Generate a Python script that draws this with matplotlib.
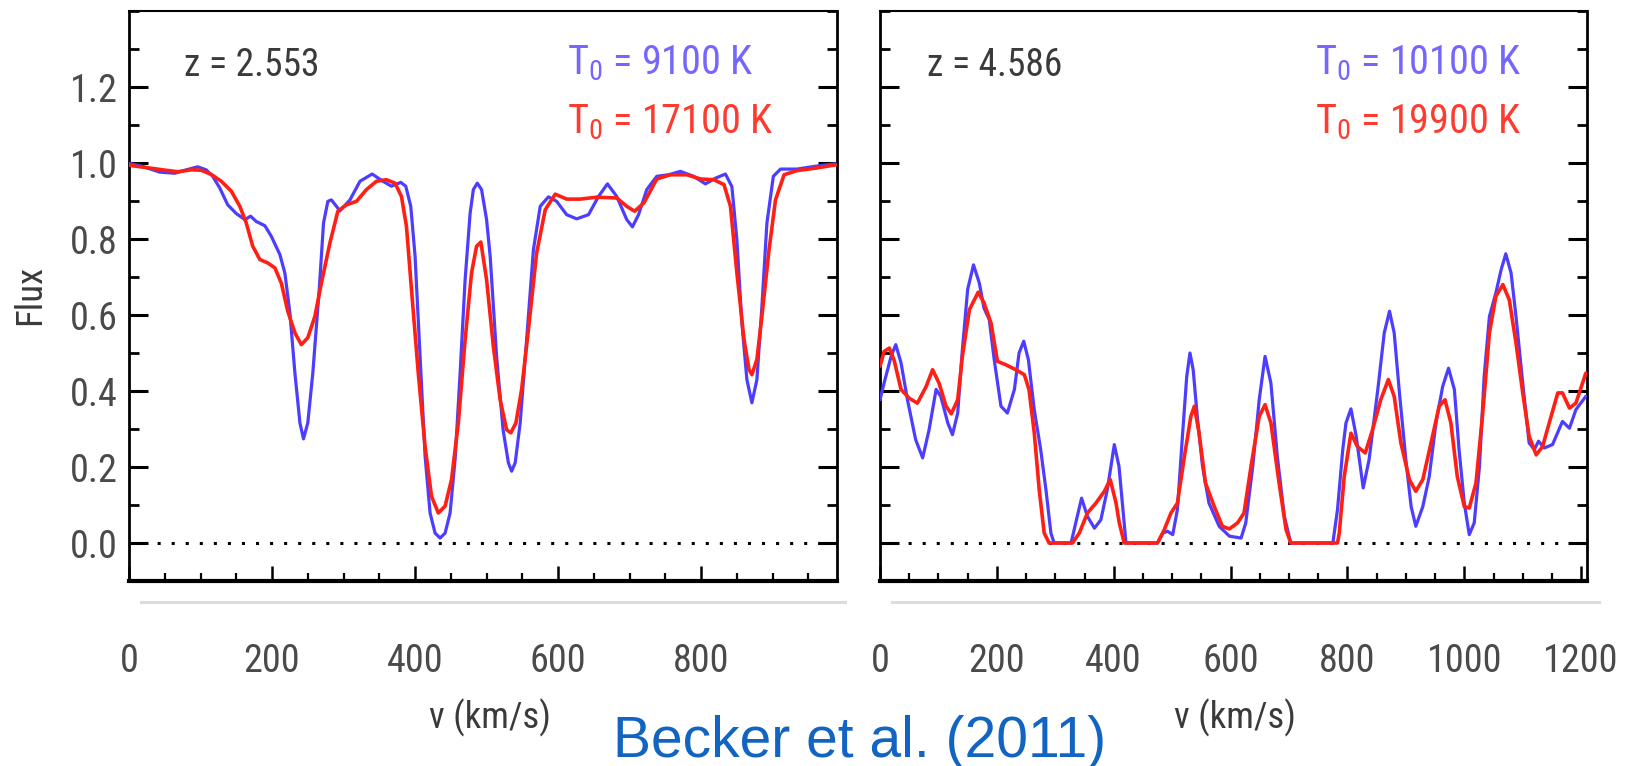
import matplotlib
matplotlib.use("Agg")
import matplotlib.pyplot as plt
from matplotlib import font_manager as fm
from matplotlib.lines import Line2D
from matplotlib.ticker import MultipleLocator

# ---------------- data ----------------
# Left panel (z = 2.553)
v_left_blue = [0, 19, 43, 64, 80, 96, 108, 117, 127, 138, 150, 162, 170, 178, 190, 199, 211, 218,
               225, 232, 239, 244, 250, 257, 266, 272, 278, 283, 295, 309, 323, 340, 355, 367, 380,
               387, 394, 400, 407, 414, 421, 428, 435, 442, 449, 456, 463, 470, 477, 481.5, 487,
               493, 500, 505, 514, 523, 530.5, 535, 540, 547, 556, 565.5, 575, 586.5, 598, 612,
               626, 642.5, 656.5, 669, 682, 696, 704, 712.5, 724, 738, 754.5, 771, 789.5, 806, 820,
               834, 843, 850, 857, 864, 871, 878, 885, 892, 901, 911, 934, 958, 988]
f_left_blue = [0.999, 0.991, 0.976, 0.973, 0.982, 0.990, 0.982, 0.965, 0.934, 0.890, 0.867, 0.851,
               0.860, 0.846, 0.835, 0.807, 0.759, 0.710, 0.605, 0.447, 0.316, 0.274, 0.316, 0.447,
               0.667, 0.842, 0.899, 0.903, 0.874, 0.903, 0.952, 0.971, 0.952, 0.939, 0.949, 0.939,
               0.886, 0.755, 0.492, 0.229, 0.079, 0.026, 0.013, 0.026, 0.079, 0.22, 0.447, 0.693,
               0.868, 0.93, 0.947, 0.93, 0.851, 0.755, 0.492, 0.299, 0.211, 0.189, 0.211, 0.316,
               0.535, 0.772, 0.886, 0.911, 0.899, 0.864, 0.853, 0.864, 0.912, 0.945, 0.912, 0.851,
               0.832, 0.864, 0.930, 0.965, 0.969, 0.978, 0.965, 0.945, 0.960, 0.971, 0.938, 0.798,
               0.579, 0.43, 0.369, 0.43, 0.623, 0.842, 0.965, 0.984, 0.984, 0.991, 0.998]

v_left_red = [0, 24, 47, 68, 87, 101, 115, 129, 143, 155, 164, 173, 183, 194, 204, 213, 222, 232,
              241, 250, 260, 269, 281, 292, 304, 318, 332, 346, 360, 372, 381, 388, 395, 404.5,
              414, 423, 432.5, 442, 451, 460.5, 470, 479, 486, 492, 500, 509.5, 519, 528, 534, 541,
              549, 558.5, 570, 582, 596, 612, 631, 654, 682, 696, 707, 720, 738, 757, 780, 799,
              818, 832, 841, 850, 860, 867, 871, 878, 885, 895, 904, 916, 934, 958, 988]
f_left_red = [0.994, 0.988, 0.982, 0.977, 0.982, 0.981, 0.970, 0.952, 0.926, 0.886, 0.842, 0.781,
              0.746, 0.737, 0.724, 0.684, 0.610, 0.553, 0.522, 0.540, 0.597, 0.684, 0.79, 0.873,
              0.890, 0.899, 0.930, 0.952, 0.956, 0.947, 0.912, 0.833, 0.667, 0.447, 0.254, 0.123,
              0.079, 0.097, 0.167, 0.316, 0.535, 0.711, 0.781, 0.792, 0.693, 0.517, 0.377, 0.298,
              0.290, 0.316, 0.404, 0.561, 0.763, 0.877, 0.918, 0.905, 0.905, 0.910, 0.908, 0.886,
              0.873, 0.895, 0.958, 0.969, 0.969, 0.958, 0.956, 0.943, 0.886, 0.711, 0.535, 0.456,
              0.443, 0.483, 0.597, 0.772, 0.903, 0.969, 0.980, 0.986, 0.995]

# Right panel (z = 4.586)
v_right_blue = [0, 7, 19, 27, 36, 47, 61, 73, 84, 96, 104, 116, 124, 133, 141, 150, 160, 170, 178,
                187, 195.5, 207, 218, 230, 238, 246, 254, 264, 275, 284, 292.5, 298, 327, 335, 345,
                355, 367, 378, 389, 401, 409, 421, 475, 484, 492, 501, 509, 518, 525, 530.5, 536,
                543, 552, 563, 580.5, 598, 618, 626, 638, 649, 659, 669, 680, 692, 703, 775, 783,
                792, 797.5, 806, 815, 827, 837, 852, 863, 872, 880, 889, 900, 909, 917, 929, 940,
                951.5, 963, 973, 983, 991, 1000, 1008.5, 1017, 1026, 1034, 1043, 1054, 1063, 1071,
                1080, 1088.5, 1100, 1111, 1120, 1127, 1137, 1151, 1168, 1180, 1191, 1208]
f_right_blue = [0.377, 0.421, 0.491, 0.522, 0.474, 0.377, 0.272, 0.224, 0.298, 0.404, 0.386, 0.316,
                0.285, 0.342, 0.509, 0.667, 0.732, 0.684, 0.618, 0.588, 0.482, 0.360, 0.342, 0.404,
                0.500, 0.531, 0.482, 0.351, 0.246, 0.140, 0.026, 0.0, 0.0, 0.053, 0.118, 0.070,
                0.039, 0.061, 0.140, 0.259, 0.202, 0.0, 0.0, 0.026, 0.031, 0.022, 0.088, 0.290,
                0.439, 0.500, 0.456, 0.333, 0.202, 0.105, 0.044, 0.018, 0.013, 0.053, 0.202, 0.377,
                0.491, 0.421, 0.228, 0.070, 0.0, 0.0, 0.088, 0.246, 0.316, 0.353, 0.281, 0.145,
                0.219, 0.404, 0.553, 0.610, 0.553, 0.395, 0.219, 0.096, 0.044, 0.096, 0.175, 0.316,
                0.412, 0.460, 0.404, 0.246, 0.105, 0.022, 0.053, 0.202, 0.439, 0.596, 0.658, 0.719,
                0.761, 0.711, 0.596, 0.421, 0.263, 0.246, 0.268, 0.250, 0.259, 0.320, 0.302, 0.351,
                0.386]

v_right_red = [0, 7, 16, 24, 36, 50, 64, 79, 90, 101, 113, 122, 133, 141, 153, 168, 178, 190, 201,
               215.5, 232.5, 247, 255, 264, 272.5, 281, 289.5, 329.5, 341, 355, 369.5, 384, 394,
               404, 409.5, 418, 475, 486.5, 498, 509, 521, 532, 538, 546, 557, 572, 586, 598, 612,
               623, 635, 649, 659, 669, 683, 695, 703, 783, 786, 794.5, 806, 817, 830.5, 843, 857,
               870, 880, 891.5, 906, 917, 929, 943, 957, 967, 977, 988, 1000, 1008.5, 1020, 1031,
               1043, 1054, 1066, 1077, 1088.5, 1100, 1111, 1123, 1134, 1148.5, 1160, 1168, 1180,
               1191, 1208]
f_right_red = [0.465, 0.504, 0.513, 0.482, 0.404, 0.381, 0.368, 0.412, 0.456, 0.421, 0.360, 0.340,
               0.377, 0.491, 0.614, 0.660, 0.632, 0.579, 0.478, 0.469, 0.456, 0.443, 0.404, 0.290,
               0.140, 0.026, 0.0, 0.0, 0.026, 0.079, 0.105, 0.136, 0.167, 0.105, 0.053, 0.0, 0.0,
               0.035, 0.079, 0.105, 0.228, 0.333, 0.360, 0.290, 0.158, 0.096, 0.044, 0.037, 0.053,
               0.079, 0.202, 0.333, 0.364, 0.316, 0.158, 0.035, 0.0, 0.0, 0.026, 0.175, 0.289,
               0.254, 0.237, 0.298, 0.377, 0.430, 0.386, 0.263, 0.167, 0.136, 0.167, 0.263, 0.360,
               0.377, 0.316, 0.175, 0.096, 0.092, 0.158, 0.333, 0.553, 0.649, 0.680, 0.640, 0.526,
               0.395, 0.281, 0.232, 0.254, 0.333, 0.395, 0.395, 0.355, 0.368, 0.447]

z_labels = ["z = 2.553", "z = 4.586"]
t_blue_labels = [r"T$_0$ = 9100 K", r"T$_0$ = 10100 K"]
t_red_labels = [r"T$_0$ = 17100 K", r"T$_0$ = 19900 K"]
xlims = [990, 1210]
xticks_left = [0, 200, 400, 600, 800]
xticks_right = [0, 200, 400, 600, 800, 1000, 1200]
yticks = [0.0, 0.2, 0.4, 0.6, 0.8, 1.0, 1.2]

# ---------------- fonts: prefer a condensed sans if one is installed ----------------
fam, stretch, scale = "Liberation Sans", "normal", 0.80
names = {f.name for f in fm.fontManager.ttflist}
found = False
for cand in ["Liberation Sans Narrow", "Roboto Condensed", "Open Sans Condensed",
             "Noto Sans Condensed", "DejaVu Sans Condensed", "Arial Narrow"]:
    if cand in names:
        fam, stretch, scale, found = cand, "normal", 1.0, True
        break
if not found:
    for base in ["Roboto", "Noto Sans", "Open Sans", "DejaVu Sans", "Inter"]:
        for f in fm.fontManager.ttflist:
            st = f.stretch
            if f.name == base and f.style == "normal" and st in (
                    "condensed", "semi-condensed", "extra-condensed", 75, 87.5, 62.5, 300):
                fam, stretch, scale, found = base, st, 1.0, True
                break
        if found:
            break

plt.rcParams["font.family"] = [fam, "Liberation Sans", "DejaVu Sans"]
plt.rcParams["font.stretch"] = stretch
plt.rcParams["mathtext.fontset"] = "custom"
spec = fam if stretch == "normal" else f"{fam}:stretch={stretch}"
plt.rcParams["mathtext.rm"] = spec
plt.rcParams["mathtext.it"] = spec
plt.rcParams["mathtext.sf"] = spec

TICK_FS = 27.5 * scale
Z_FS = 27 * scale
T_FS = 29 * scale
LAB_FS = 26.5 * scale

BLUE = "#4c3dff"
RED = "#ff1f14"
BLUE_TXT = "#7566ff"
RED_TXT = "#ff3b30"
GRAY_TXT = "#3a3a3a"

W, H = 1634, 766
fig = plt.figure(figsize=(W / 100, H / 100), dpi=100)

def fx(px):
    return px / W

def fy(py):
    return 1 - py / H

ax_top, ax_bot = 11, 581
axL = fig.add_axes([fx(129), fy(ax_bot), fx(837) - fx(129), fy(ax_top) - fy(ax_bot)])
axR = fig.add_axes([fx(880), fy(ax_bot), fx(1587) - fx(880), fy(ax_top) - fy(ax_bot)])

panels = [
    (axL, v_left_blue, f_left_blue, v_left_red, f_left_red, xticks_left, 0.078, 0.619, 0.51),
    (axR, v_right_blue, f_right_blue, v_right_red, f_right_red, xticks_right, 0.066, 0.615, 0.502),
]

for i, (ax, vb, fb, vr, fr, xt, zx, tx, lx) in enumerate(panels):
    ax.plot(vb, fb, color=BLUE, lw=2.3, solid_joinstyle="round", solid_capstyle="round", zorder=3)
    ax.plot(vr, fr, color=RED, lw=2.6, solid_joinstyle="round", solid_capstyle="round", zorder=4)
    ax.axhline(0.0, color="black", lw=2.2, ls=(0, (1, 3.6)), zorder=2)
    ax.set_xlim(0, xlims[i])
    ax.set_ylim(-0.1, 1.4)
    ax.set_xticks(xt)
    ax.xaxis.set_minor_locator(MultipleLocator(50))
    ax.set_yticks(yticks)
    ax.yaxis.set_minor_locator(MultipleLocator(0.1))
    ax.tick_params(axis="y", which="major", direction="in", length=14, width=2.2,
                   left=True, right=True, labelsize=TICK_FS, labelcolor="#4a4a4a", pad=8)
    ax.tick_params(axis="y", which="minor", direction="in", length=7, width=2.0,
                   left=True, right=True)
    ax.tick_params(axis="x", which="major", direction="in", length=11, width=1.8,
                   bottom=True, top=False, labelsize=TICK_FS, labelcolor="#4a4a4a", pad=45)
    ax.tick_params(axis="x", which="minor", direction="in", length=6, width=1.6,
                   bottom=True, top=False)
    if i == 1:
        ax.tick_params(axis="y", which="both", labelleft=False)
    for s in ["left", "right"]:
        ax.spines[s].set_linewidth(2.0)
    ax.spines["bottom"].set_linewidth(3.0)
    ax.spines["top"].set_linewidth(1.5)

    ax.set_xlabel("v (km/s)", fontsize=LAB_FS, color=GRAY_TXT)
    ax.xaxis.set_label_coords(lx, -0.206)

    ax.text(zx, 0.886, z_labels[i], transform=ax.transAxes, fontsize=Z_FS,
            color=GRAY_TXT, ha="left", va="baseline")
    ax.text(tx, 0.888, t_blue_labels[i], transform=ax.transAxes, fontsize=T_FS,
            color=BLUE_TXT, ha="left", va="baseline")
    ax.text(tx, 0.786, t_red_labels[i], transform=ax.transAxes, fontsize=T_FS,
            color=RED_TXT, ha="left", va="baseline")

axL.set_ylabel("Flux", fontsize=LAB_FS, color=GRAY_TXT, va="center")
axL.yaxis.set_label_coords(-0.140, 0.502)

# light gray separator lines under each panel
fig.add_artist(Line2D([fx(141), fx(845)], [fy(602), fy(602)], color="#dcdcdc", lw=2.2))
fig.add_artist(Line2D([fx(892), fx(1599)], [fy(602), fy(602)], color="#dcdcdc", lw=2.2))

fig.text(fx(860), fy(742), "Becker et al. (2011)", fontsize=41, color="#1264c2",
         ha="center", va="center", family=["Liberation Sans", "DejaVu Sans"], stretch="normal")

fig.savefig("out.png", dpi=100)
